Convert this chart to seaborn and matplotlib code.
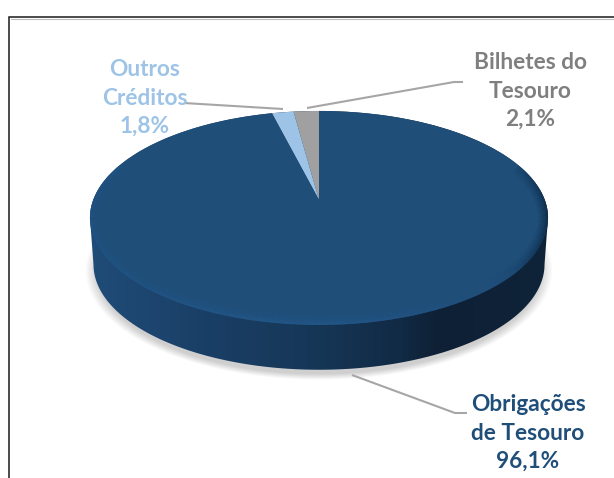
import numpy as np
import matplotlib
matplotlib.use('Agg')
import matplotlib.pyplot as plt
import matplotlib.transforms as mtransforms
from matplotlib.colors import LinearSegmentedColormap
from matplotlib.collections import LineCollection
from matplotlib.patches import Polygon
import seaborn as sns

# dados
categories = [['Bilhetes do', 'Tesouro'], ['Outros', 'Créditos'], ['Obrigações', 'de Tesouro']]
values = [2.1, 1.8, 96.1]
slice_colors = ['#A0A0A0', '#9DC3E6', '#1F4E79']
label_colors = ['#7F7F7F', '#9DC3E6', '#1F4E79']

sns.set_theme(style='white')
plt.rcParams['font.family'] = ['Lato', 'DejaVu Sans']

# geometria do disco em perspectiva (pixeis da imagem)
CX, CY = 319, 200
A, B, C = 225.8, 104.0, 0.168
DEPTH = 47


class Perspective(mtransforms.Transform):
    input_dims = 2
    output_dims = 2

    def transform_non_affine(self, xy):
        xy = np.asarray(xy, dtype=float)
        den = 1 + C * xy[:, 1]
        return np.column_stack([CX + A * xy[:, 0] / den, CY - B * xy[:, 1] / den])


def ring(scale=1.0, dy=0, n=721):
    t = np.linspace(0, 2 * np.pi, n)
    pts = Perspective().transform_non_affine(np.column_stack([np.cos(t), np.sin(t)]) * scale)
    pts[:, 1] += dy
    return pts


fig = plt.figure(figsize=(6.14, 4.78), dpi=100, facecolor='white')
ax = fig.add_axes([0, 0, 1, 1])

# sombra difusa
shadow = ring(0.985, DEPTH + 6)
sx = shadow[:, 0].mean()
sy = shadow[:, 1].mean()
for grow in np.linspace(1.035, 0.985, 16):
    ax.add_patch(Polygon(np.column_stack([sx + (shadow[:, 0] - sx) * grow, sy + (shadow[:, 1] - sy) * grow]),
                         closed=True, fc='black', ec='none', alpha=0.011, zorder=1))

# lateral do disco, com gradiente horizontal
top = ring()
bottom = ring(0.985, DEPTH)
il, ir = np.argmin(top[:-1, 0]), np.argmax(top[:-1, 0])
jl, jr = np.argmin(bottom[:-1, 0]), np.argmax(bottom[:-1, 0])
top_arc = np.vstack([top[ir:-1], top[:il + 1]])[::-1]   # esquerda -> direita por cima
bot_arc = bottom[jl:jr + 1][::-1]                       # direita -> esquerda por baixo
side_poly = Polygon(np.vstack([top_arc, bot_arc]), closed=True, fc='none', ec='none')
ax.add_patch(side_poly)
side_cmap = LinearSegmentedColormap.from_list('side', [
    (0.0, '#1F4C78'), (0.25, '#1A3F66'), (0.5, '#163656'), (0.68, '#112A45'),
    (0.76, '#0E2035'), (1.0, '#0F2339')])
grad = ax.imshow(np.linspace(0, 1, 256)[None, :], cmap=side_cmap, aspect='auto',
                 extent=(90, 548, 380, 100), zorder=2)
grad.set_clip_path(side_poly)

# fatias (topo)
wedges, _ = ax.pie(values, colors=slice_colors, startangle=90, counterclock=True,
                   wedgeprops={'linewidth': 0})
persp = Perspective() + ax.transData
for w in wedges:
    w.set_transform(persp)
    w.set_zorder(3)
    w.set_clip_on(False)

# bisel na orla do topo
top_patch = Polygon(top, closed=True, fc='none', ec='none')
ax.add_patch(top_patch)
rim = ring(1.0)
segs = np.stack([rim[:-1], rim[1:]], axis=1)
sn = np.sin(np.linspace(0, 2 * np.pi, len(segs)))
keep = sn < 0.35
segs = segs[keep]
xm = segs[:, :, 0].mean(axis=1)
rim_cmap = LinearSegmentedColormap.from_list('rim', [
    (0.0, '#245A8C'), (0.5, '#2A6199'), (0.75, '#255788'), (0.93, '#1D4A75'), (1.0, '#0B1C2E')])
for lw, alpha in [(14, 0.07), (11, 0.09), (8, 0.12), (5, 0.16), (2.5, 0.2)]:
    lc = LineCollection(segs, cmap=rim_cmap, array=(xm - 90) / 458, alpha=alpha,
                        linewidths=lw, zorder=4, capstyle='butt')
    lc.set_clim(0, 1)
    ax.add_collection(lc)
    lc.set_clip_path(top_patch)

# linhas de chamada
leader_lines = [
    ([307, 454, 463], [108, 82, 82]),
    ([283, 184], [109, 103]),
    ([352, 455, 467], [375, 413, 413]),
]
for lx, ly in leader_lines:
    ax.plot(lx, ly, color='#A6A6A6', lw=1.5, zorder=5, solid_capstyle='butt')

# rótulos
label_pos = [(530, 62.5), (145, 69.5), (528, 404.5)]
for cat, val, col, (tx, ty) in zip(categories, values, label_colors, label_pos):
    lines = cat + [f'{val:.1f}%'.replace('.', ',')]
    for i, line in enumerate(lines):
        ax.text(tx, ty + i * 28.5, line, color=col, fontsize=16.3, fontweight='bold',
                ha='center', va='center', zorder=6)

# moldura
ax.plot([9, 9, 614], [478, 17, 17], color='#1A1A1A', lw=1.1, zorder=7, solid_joinstyle='miter')
ax.plot([10.5, 614], [18.5, 18.5], color='#BBBBBB', lw=0.8, zorder=7)

ax.set_xlim(0, 614)
ax.set_ylim(478, 0)
ax.set_aspect('auto')
ax.axis('off')

fig.savefig('out.png', dpi=100)
